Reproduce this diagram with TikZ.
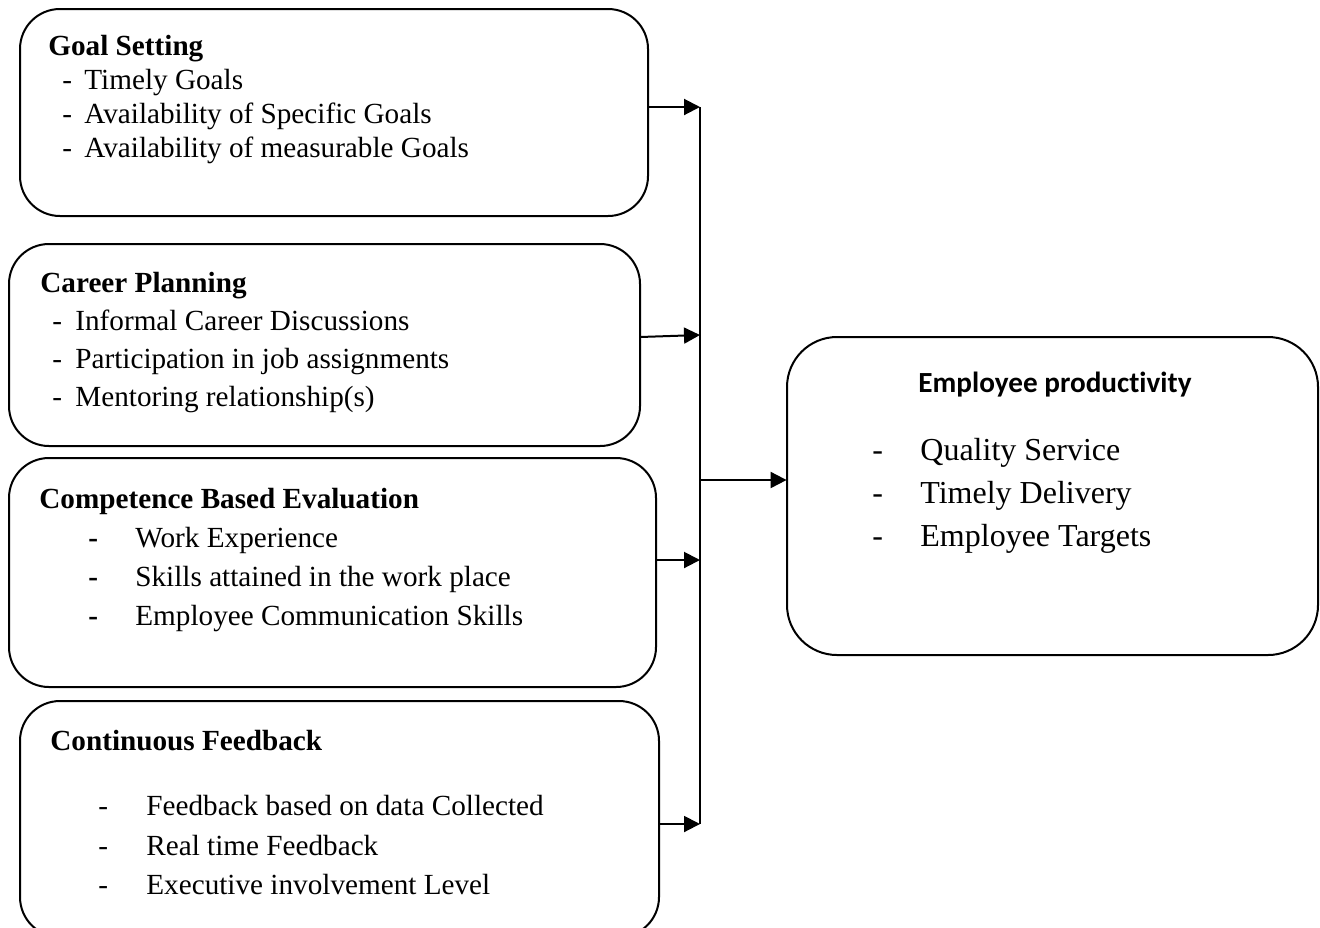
\documentclass[tikz,border=0pt]{standalone}
\usepackage{fontspec}
\setmainfont{Liberation Serif}
\newfontfamily\calibri[Ligatures={NoCommon}]{Carlito}
\usetikzlibrary{arrows.meta}
\tikzset{
  x=0.5pt, y=-0.5pt,
  panel/.style={draw=black, line width=1pt, rounded corners=20pt},
  bigpanel/.style={draw=black, line width=1pt, rounded corners=25pt},
  txt/.style={anchor=base west, inner sep=0pt, font=\fontsize{14.6}{17}\selectfont},
  ttl/.style={txt, font=\fontsize{14.6}{17}\selectfont\bfseries},
  bigtxt/.style={anchor=base west, inner sep=0pt, font=\fontsize{16}{19}\selectfont},
  conn/.style={line width=1pt, -{Triangle[length=8pt,width=8pt]}},
  bus/.style={line width=1pt}
}
\begin{document}
\begin{tikzpicture}
\useasboundingbox (0,0) rectangle (1320,927);
% boxes
\draw[panel] (20,9) rectangle (648,216);
\node[inner sep=0pt, minimum width=314pt, minimum height=103.5pt] (b1) at (334,112.5) {};
\draw[panel] (9,244) rectangle (640,446);
\node[inner sep=0pt, minimum width=315.5pt, minimum height=101pt] (b2) at (324.5,345) {};
\draw[panel] (9,458) rectangle (656,687);
\node[inner sep=0pt, minimum width=323.5pt, minimum height=114.5pt] (b3) at (332.5,572.5) {};
\draw[panel] (20,701) rectangle (659,937);
\node[inner sep=0pt, minimum width=319.5pt, minimum height=118pt] (b4) at (339.5,819) {};
\draw[bigpanel] (787,337) rectangle (1318,655);
\node[inner sep=0pt, minimum width=265.5pt, minimum height=159pt] (rb) at (1052.5,496) {};

% Goal Setting
\node[ttl] (t1) at (48,55) {Goal Setting};
\node[txt] (d11) at (62,89) {-};
\node[txt] (i11) at (84,89) {Timely Goals};
\node[txt] (d12) at (62,123) {-};
\node[txt] (i12) at (84,123) {Availability of Specific Goals};
\node[txt] (d13) at (62,157) {-};
\node[txt] (i13) at (84,157) {Availability of measurable Goals};

% Career Planning
\node[ttl] (t2) at (40,292) {Career Planning};
\node[txt] (d21) at (52,330) {-};
\node[txt] (i21) at (75,330) {Informal Career Discussions};
\node[txt] (d22) at (52,368) {-};
\node[txt] (i22) at (75,368) {Participation in job assignments};
\node[txt] (d23) at (52,406) {-};
\node[txt] (i23) at (75,406) {Mentoring relationship(s)};

% Competence Based Evaluation
\node[ttl] (t3) at (39,508) {Competence Based Evaluation};
\node[ttl] (d31) at (88,547) {-};
\node[txt] (i31) at (135,547) {Work Experience};
\node[ttl] (d32) at (88,586) {-};
\node[txt] (i32) at (135,586) {Skills attained in the work place};
\node[ttl] (d33) at (88,625) {-};
\node[txt] (i33) at (135,625) {Employee Communication Skills};

% Continuous Feedback
\node[ttl] (t4) at (50,750) {Continuous Feedback};
\node[txt] (d41) at (98,815) {-};
\node[txt] (i41) at (146,815) {Feedback based on data Collected};
\node[txt] (d42) at (98,855) {-};
\node[txt] (i42) at (146,855) {Real time Feedback};
\node[txt] (d43) at (98,894) {-};
\node[txt] (i43) at (146,894) {Executive involvement Level};

% Employee productivity
\node[anchor=base, inner sep=0pt, font=\calibri\bfseries\fontsize{14.6}{17}\selectfont] (t5) at (1055,392) {Employee productivity};
\node[bigtxt] (d51) at (872,460) {-};
\node[bigtxt] (i51) at (920,460) {Quality Service};
\node[bigtxt] (d52) at (872,503) {-};
\node[bigtxt] (i52) at (920,503) {Timely Delivery};
\node[bigtxt] (d53) at (872,546) {-};
\node[bigtxt] (i53) at (920,546) {Employee Targets};

% connectors
\coordinate (j1) at (700,107);
\coordinate (j2) at (700,335);
\coordinate (jm) at (700,480);
\coordinate (j3) at (700,560);
\coordinate (j4) at (700,824);
\draw[bus] (j1) -- (j4);
\draw[conn] (b1.east |- j1) -- (j1);
\draw[conn] (640,337) -- (j2);
\draw[conn] (b3.east |- j3) -- (j3);
\draw[conn] (b4.east |- j4) -- (j4);
\draw[conn] (jm) -- (rb.west |- jm);
\end{tikzpicture}
\end{document}
